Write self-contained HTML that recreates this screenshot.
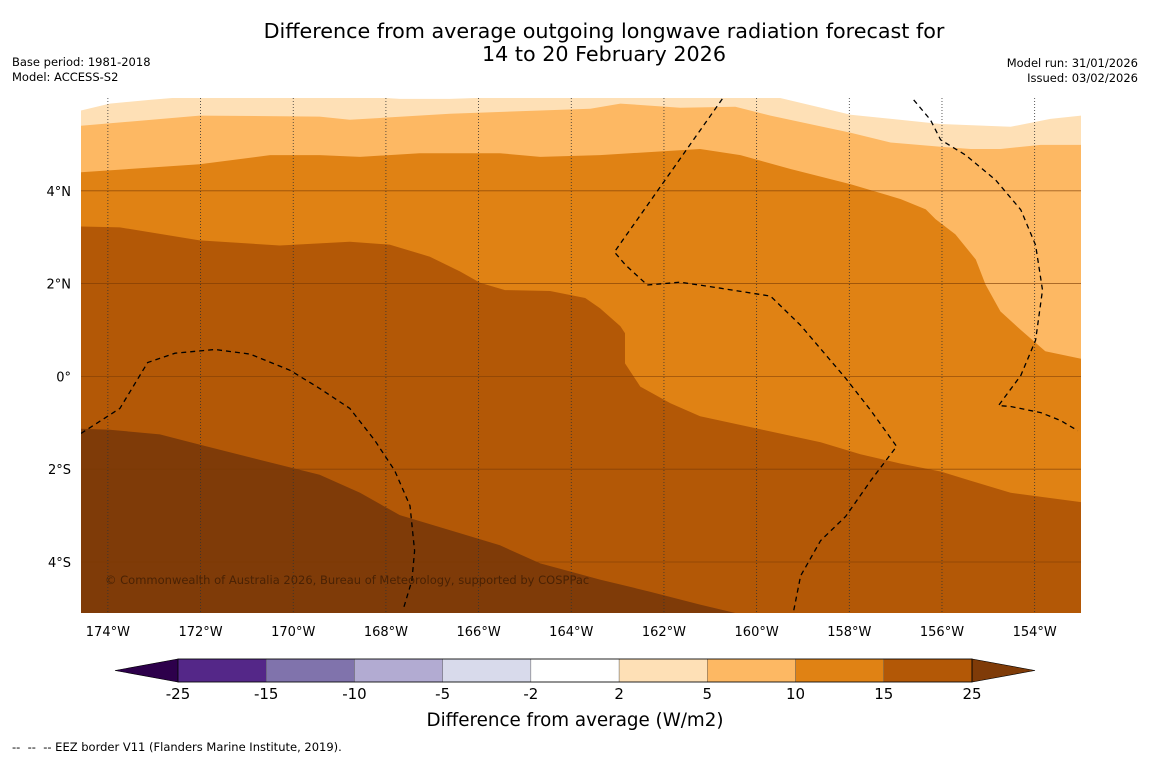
<!DOCTYPE html>
<html><head><meta charset="utf-8">
<style>
body{margin:0;background:#fff;width:1150px;height:758px;overflow:hidden;font-family:"DejaVu Sans","Liberation Sans",sans-serif;}
svg{position:absolute;left:0;top:0}
</style></head>
<body>
<svg id="c" width="1150" height="758" xmlns="http://www.w3.org/2000/svg">
<text x="604" y="38" text-anchor="middle" font-size="20.7">Difference from average outgoing longwave radiation forecast for</text>
<text x="604" y="61" text-anchor="middle" font-size="20.7">14 to 20 February 2026</text>
<text x="12" y="66" font-size="11.5">Base period: 1981-2018</text>
<text x="12" y="81" font-size="11.5">Model: ACCESS-S2</text>
<text x="1138" y="67" font-size="11.5" text-anchor="end">Model run: 31/01/2026</text>
<text x="1138" y="82" font-size="11.5" text-anchor="end">Issued: 03/02/2026</text>
<g id="map"></g>
<g id="cb"></g>
<text x="575" y="726" text-anchor="middle" font-size="18.3">Difference from average (W/m2)</text>
<text x="12" y="751" font-size="11.5" xml:space="preserve" style="white-space:pre">--  --  -- EEZ border V11 (Flanders Marine Institute, 2019).</text>
</svg>
<script>
// data (lon: negative = W, lat: positive = N)
const lonRange=[-174.58,-153.0];
const latRange=[-5.1,6.0];
const lonTicks=[-174,-172,-170,-168,-166,-164,-162,-160,-158,-156,-154];
const latTicks=[4,2,0,-2,-4];
const latTickLabels=["4°N","2°N","0°","2°S","4°S"];
const levelColors=["#fee0b6","#fdb863","#e08214","#b35806","#7f3b08"];
// contour boundaries (upper boundary of each level band)
const b1Lon=[-174.58,-173.96,-173.1,-172.02,-168.78,-167.7,-166.62,-164.67,-159.7,-157.97,-156.03,-154.52,-153.66,-153.0];
const b1Lat=[5.73,5.88,5.96,6.05,6.05,5.98,5.98,6.05,6.05,5.64,5.44,5.38,5.55,5.62];
const b2Lon=[-174.58,-172.02,-169.43,-168.78,-166.62,-164.67,-163.59,-162.94,-161.65,-160.46,-159.7,-157.97,-157.11,-156.03,-155.38,-154.74,-153.87,-153.0];
const b2Lat=[5.4,5.62,5.6,5.53,5.66,5.73,5.77,5.88,5.79,5.81,5.62,5.25,5.04,4.95,4.9,4.9,4.99,4.99];
const b3Lon=[-174.58,-172.02,-170.5,-169.43,-168.56,-167.27,-165.54,-164.67,-163.38,-161.22,-160.35,-159.27,-157.97,-156.89,-156.35,-156.14,-155.71,-155.27,-155.06,-154.74,-154.31,-153.77,-153.0];
const b3Lat=[4.4,4.57,4.77,4.77,4.73,4.81,4.81,4.73,4.77,4.9,4.77,4.47,4.14,3.82,3.6,3.39,3.06,2.52,1.98,1.4,1.01,0.54,0.38];
const b4Lon=[-174.58,-173.74,-172.02,-170.29,-168.78,-167.92,-167.05,-166.4,-165.97,-165.43,-164.46,-163.7,-163.38,-162.94,-162.84,-162.84,-162.51,-161.86,-161.22,-159.92,-158.62,-157.76,-156.89,-156.03,-155.38,-154.52,-153.0];
const b4Lat=[3.23,3.21,2.93,2.82,2.9,2.84,2.58,2.26,2.02,1.86,1.84,1.69,1.47,1.08,0.93,0.28,-0.22,-0.58,-0.86,-1.14,-1.42,-1.68,-1.88,-2.05,-2.25,-2.51,-2.71];
const b5Lon=[-174.58,-173.96,-172.88,-172.02,-170.72,-169.43,-168.56,-167.7,-166.4,-165.54,-164.67,-163.38,-162.3,-161.22,-160.46];
const b5Lat=[-1.13,-1.15,-1.25,-1.47,-1.8,-2.12,-2.51,-2.99,-3.38,-3.64,-4.03,-4.38,-4.64,-4.92,-5.1];
// EEZ dashed borders [lon,lat]
const eezA=[[-160.74,5.98],[-163.07,2.68],[-162.83,2.40],[-162.36,1.97],[-161.65,2.03],[-160.78,1.90],[-159.70,1.73],[-159.05,1.10],[-158.08,-0.04],[-157.54,-0.73],[-156.98,-1.51],[-157.54,-2.25],[-158.08,-3.02],[-158.62,-3.54],[-159.05,-4.30],[-159.2,-5.05]];
const eezB=[[-174.58,-1.23],[-173.74,-0.69],[-173.14,0.3],[-172.55,0.5],[-171.69,0.58],[-170.93,0.48],[-170.07,0.13],[-169.43,-0.26],[-168.78,-0.69],[-168.24,-1.38],[-167.81,-2.03],[-167.48,-2.79],[-167.38,-3.76],[-167.44,-4.4],[-167.62,-5.0]];
const eezC=[[-156.61,5.96],[-156.25,5.53],[-156.03,5.10],[-155.49,4.77],[-154.84,4.23],[-154.30,3.59],[-153.98,2.83],[-153.83,1.86],[-153.98,0.78],[-154.30,0.02],[-154.78,-0.63],[-154.52,-0.65],[-153.87,-0.78],[-153.44,-0.95],[-153.07,-1.17]];
const cbLabels=["-25","-15","-10","-5","-2","2","5","10","15","25"];
const cbColors=["#2d004b","#542788","#8073ac","#b2abd2","#d8daeb","#ffffff","#fee0b6","#fdb863","#e08214","#b35806","#7f3b08"];

const X0=81,X1=1081,Y0=98,Y1=613;
const xs=lon=>X0+(lon-lonRange[0])/(lonRange[1]-lonRange[0])*(X1-X0);
const ys=lat=>Y0+(latRange[1]-lat)/(latRange[1]-latRange[0])*(Y1-Y0);
const NS="http://www.w3.org/2000/svg";
const map=document.getElementById('map');
function mk(tag,attrs,parent){const e=document.createElementNS(NS,tag);for(const k in attrs)e.setAttribute(k,attrs[k]);parent.appendChild(e);return e;}
const clip=mk('clipPath',{id:'mc'},map);mk('rect',{x:X0,y:Y0,width:X1-X0,height:Y1-Y0},clip);
const g=mk('g',{'clip-path':'url(#mc)'},map);
const bounds=[[b1Lon,b1Lat],[b2Lon,b2Lat],[b3Lon,b3Lat],[b4Lon,b4Lat],[b5Lon,b5Lat]];
bounds.forEach((b,i)=>{
  let d='M'+b[0].map((lo,j)=>xs(lo).toFixed(1)+','+ys(b[1][j]).toFixed(1)).join(' L');
  const last=b[0][b[0].length-1];
  d+=' L'+xs(last)+','+(Y1+5)+' L'+(X0-5)+','+(Y1+5)+' Z';
  if(i===4){d='M'+b[0].map((lo,j)=>xs(lo).toFixed(1)+','+ys(b[1][j]).toFixed(1)).join(' L')+' L'+(X0-5)+','+(Y1+5)+' Z';}
  const p=mk('path',{d:d,fill:levelColors[i]},g);
  
  
});
lonTicks.forEach(lo=>{
  const x=xs(lo);
  const l=mk('line',{x1:x,x2:x,y1:Y0,y2:Y1,stroke:'#333','stroke-width':0.8,'stroke-dasharray':'1,2'},g);
  
  
  const t=mk('text',{x:x,y:636,'text-anchor':'middle','font-size':13},map);
  t.textContent=Math.abs(lo)+'°W';
  
  
});
latTicks.forEach((la,i)=>{
  const y=ys(la);
  const l=mk('line',{x1:X0,x2:X1,y1:y,y2:y,stroke:'#7a3a05','stroke-width':0.8,opacity:0.7},g);
  
  
  const t=mk('text',{x:71,y:y+5,'text-anchor':'end','font-size':13},map);
  t.textContent=latTickLabels[i];
  
  
});
[eezA,eezB,eezC].forEach((e,i)=>{
  const p=mk('polyline',{points:e.map(q=>xs(q[0]).toFixed(1)+','+ys(q[1]).toFixed(1)).join(' '),fill:'none',stroke:'#000','stroke-width':1.3,'stroke-dasharray':'5,4'},g);
  
  
});
const cr=mk('text',{x:105,y:584,'font-size':11.5,fill:'#4a2204'},map);
cr.textContent='© Commonwealth of Australia 2026, Bureau of Meteorology, supported by COSPPac';


// colorbar
const cb=document.getElementById('cb');
const CX0=178,CX1=972,CY0=659,CY1=682,seg=(CX1-CX0)/9;
const la=mk('polygon',{points:`115,670.5 ${CX0},${CY0} ${CX0},${CY1}`,fill:cbColors[0],stroke:'#000','stroke-width':0.6},cb);

for(let i=0;i<9;i++){
  const r=mk('rect',{x:CX0+i*seg,y:CY0,width:seg,height:CY1-CY0,fill:cbColors[i+1],stroke:'#555','stroke-width':0.4},cb);
  
  
}
const ra=mk('polygon',{points:`1035,670.5 ${CX1},${CY0} ${CX1},${CY1}`,fill:cbColors[10],stroke:'#000','stroke-width':0.6},cb);

mk('rect',{x:CX0,y:CY0,width:CX1-CX0,height:CY1-CY0,fill:'none',stroke:'#000','stroke-width':0.8},cb);
cbLabels.forEach((s,i)=>{
  const t=mk('text',{x:CX0+i*seg,y:699,'text-anchor':'middle','font-size':15},cb);
  t.textContent=s;
  
  
});
</script>
</body></html>
